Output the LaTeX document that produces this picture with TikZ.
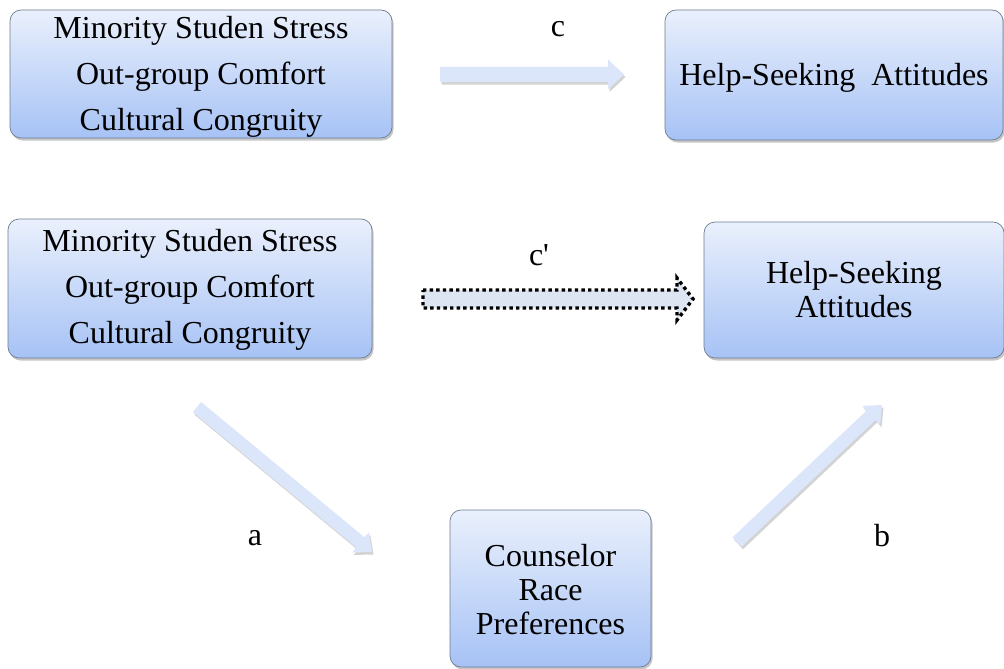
\documentclass[tikz,border=0pt]{standalone}
\usepackage{fontspec}
\setmainfont{Liberation Serif}
\newfontfamily\rawserif[Ligatures=ResetAll]{Liberation Serif}
\usetikzlibrary{calc,shadows}
\definecolor{boxtop}{HTML}{EAF0FC}
\definecolor{boxbot}{HTML}{A6C2F5}
\definecolor{boxedge}{HTML}{6E7C90}
\definecolor{arrfill}{HTML}{DCE6FB}
\definecolor{dotfill}{HTML}{DDE5F2}
\newcommand\blockarr[6]{%
  \coordinate (hb) at ($(#3)!#6!(#2)$);
  \path[#1] ($(#2)!#4!90:(#3)$) -- ($(hb)!#4!90:(#3)$) -- ($(hb)!#5!90:(#3)$) -- (#3)
    -- ($(hb)!#5!-90:(#3)$) -- ($(hb)!#4!-90:(#3)$) -- ($(#2)!#4!-90:(#3)$) -- cycle;
}
\tikzset{
  varbox/.style={draw=boxedge, line width=0.7pt, rounded corners=11pt,
    top color=boxtop, bottom color=boxbot,
    drop shadow={opacity=0.45, shadow xshift=1.5pt, shadow yshift=-2.5pt},
    inner sep=0pt},
  bigtext/.style={font=\fontsize{32}{46}\selectfont, align=center, inner sep=0pt},
  midtext/.style={font=\fontsize{32}{34}\selectfont, align=center, inner sep=0pt},
  lbl/.style={font=\fontsize{32}{34}\selectfont, inner sep=0pt},
  flatarr/.style={fill=arrfill,
    drop shadow={opacity=0.35, shadow xshift=1.5pt, shadow yshift=-2.5pt}},
  dotarr/.style={fill=dotfill, draw=black, line width=3.4pt, dash pattern=on 3.4pt off 3.2pt}
}
\begin{document}
\begin{tikzpicture}[x=1pt,y=-1pt]
\useasboundingbox (0,0) rectangle (1004,669);
% boxes
\node[varbox, minimum width=382pt, minimum height=128pt,
  label={[bigtext, yshift=-3pt]center:Minority Studen Stress\\Out-group Comfort\\Cultural Congruity}]
  (x1) at (201,74) {};
\node[varbox, minimum width=338pt, minimum height=130pt,
  label={[bigtext, yshift=-3pt]center:Help-Seeking\ \ Attitudes}]
  (y1) at (834,75) {};
\node[varbox, minimum width=364pt, minimum height=139pt,
  label={[bigtext, yshift=-1pt]center:Minority Studen Stress\\Out-group Comfort\\Cultural Congruity}]
  (x2) at (190,288.5) {};
\node[varbox, minimum width=300pt, minimum height=136pt,
  label={[midtext]center:Help-Seeking\\Attitudes}]
  (y2) at (854,290) {};
\node[varbox, minimum width=201pt, minimum height=157pt,
  label={[midtext, yshift=-1pt]center:Counselor\\Race\\Preferences}]
  (m) at (550.5,588.5) {};
% arrow end points
\coordinate (cS) at (440,74.5);
\coordinate (cE) at (624,74.5);
\coordinate (dS) at (423,299);
\coordinate (dE) at (693,299);
\coordinate (aS) at (197,407);
\coordinate (aE) at (372,552);
\coordinate (bS) at (737,542);
\coordinate (bE) at (882,405);
\blockarr{flatarr}{cS}{cE}{7.5pt}{15pt}{16pt}
\blockarr{dotarr}{dS}{dE}{9pt}{21pt}{16pt}
\blockarr{flatarr}{aS}{aE}{6.5pt}{13pt}{15pt}
\blockarr{flatarr}{bS}{bE}{6.5pt}{13pt}{15pt}
% labels
\node[lbl] (lc) at (558,29) {c};
\node[lbl] (lcp) at (539,255) {c{\rawserif\char"27}};
\node[lbl] (la) at (255,538) {a};
\node[lbl] (lb) at (882,536) {b};
\end{tikzpicture}
\end{document}
